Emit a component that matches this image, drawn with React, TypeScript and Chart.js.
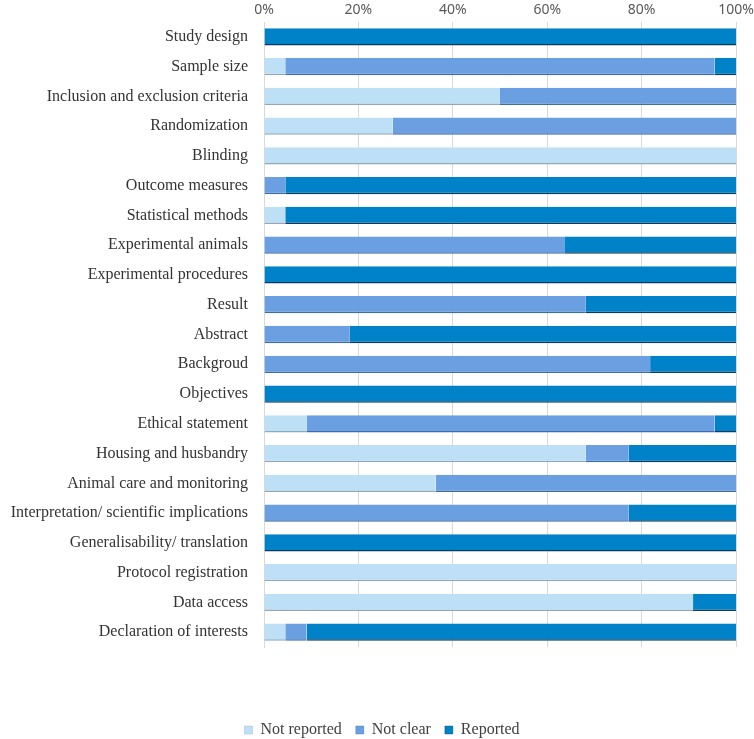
import React, { useEffect, useRef } from "react";
import { Chart, registerables } from "chart.js";

Chart.register(...registerables);

const categories = [
  "Study design",
  "Sample size",
  "Inclusion and exclusion criteria",
  "Randomization",
  "Blinding",
  "Outcome measures",
  "Statistical methods",
  "Experimental animals",
  "Experimental procedures",
  "Result",
  "Abstract",
  "Backgroud",
  "Objectives",
  "Ethical statement",
  "Housing and husbandry",
  "Animal care and monitoring",
  "Interpretation/ scientific implications",
  "Generalisability/ translation",
  "Protocol registration",
  "Data access",
  "Declaration of interests",
];

const notReported = [0, 4.5, 50, 27.3, 100, 0, 4.5, 0, 0, 0, 0, 0, 0, 9.1, 68.2, 36.4, 0, 0, 100, 90.9, 4.5];
const notClear = [0, 91, 50, 72.7, 0, 4.5, 0, 63.6, 0, 68.2, 18.2, 81.8, 0, 86.4, 9.1, 63.6, 77.3, 0, 0, 0, 4.5];
const reported = [100, 4.5, 0, 0, 0, 95.5, 95.5, 36.4, 100, 31.8, 81.8, 18.2, 100, 4.5, 22.7, 0, 22.7, 100, 0, 9.1, 91];

const tickValues = [0, 20, 40, 60, 80, 100];

const legendShift = {
  id: "legendShift",
  afterLayout(chart: any) {
    const l = chart.legend;
    if (!l) return;
    l.left += 14;
    l.right += 14;
    l.top += 11;
    l.bottom += 11;
  },
};

export default function App() {
  const ref = useRef<HTMLCanvasElement | null>(null);

  useEffect(() => {
    document.body.style.margin = "0";
    const ctx = ref.current!.getContext("2d")!;
    const serif = "'Liberation Serif', 'Times New Roman', serif";
    const chart = new Chart(ctx, {
      type: "bar",
      data: {
        labels: categories,
        datasets: [
          { label: "Not reported", data: notReported, backgroundColor: "#BEE0F7", borderColor: "#8fa9bb" },
          { label: "Not clear", data: notClear, backgroundColor: "#6A9FE2", borderColor: "#3f6da8" },
          { label: "Reported", data: reported, backgroundColor: "#0082C8", borderColor: "#0a3a63" },
        ].map((d) => ({
          ...d,
          borderWidth: { top: 0, left: 0, right: 0, bottom: 1.5 },
          borderSkipped: false,
          categoryPercentage: 0.58,
          barPercentage: 1,
        })),
      },
      options: {
        indexAxis: "y",
        animation: false,
        responsive: false,
        layout: { padding: { left: 0, right: 18, top: 0, bottom: 2 } },
        scales: {
          x: {
            position: "top",
            stacked: true,
            min: 0,
            max: 100,
            afterBuildTicks: (scale: any) => {
              scale.ticks = tickValues.map((v) => ({ value: v }));
            },
            afterFit: (scale: any) => {
              scale.height = 22;
              scale.paddingLeft = 0;
              scale.paddingRight = 0;
            },
            ticks: {
              callback: (v: any) => v + "%",
              color: "#595959",
              font: { family: "'Noto Sans', sans-serif", size: 14 },
              padding: 4,
            },
            grid: { color: "#d9d9d9", drawTicks: false, lineWidth: 1 },
            border: { display: false },
          },
          xb: {
            type: "linear",
            position: "bottom",
            display: true,
            ticks: { display: false },
            grid: { display: false, drawTicks: false },
            border: { display: false },
            afterFit: (scale: any) => {
              scale.height = 50;
              scale.paddingLeft = 0;
              scale.paddingRight = 0;
            },
          },
          y: {
            stacked: true,
            ticks: {
              color: "#333333",
              font: { family: serif, size: 16 },
              padding: 16,
              autoSkip: false,
            },
            grid: { display: false, drawTicks: false },
            border: { display: true, color: "#d9d9d9" },
            afterFit: (scale: any) => {
              scale.width = 264;
              scale.paddingTop = 0;
              scale.paddingBottom = 0;
            },
          },
        },
        plugins: {
          legend: {
            position: "bottom",
            labels: {
              boxWidth: 8,
              boxHeight: 8,
              padding: 14,
              color: "#404040",
              font: { family: serif, size: 16 },
            },
          },
          tooltip: { enabled: false },
        },
      },
      plugins: [legendShift],
    } as any);
    return () => chart.destroy();
  }, []);

  return (
    <div style={{ position: "absolute", left: 0, top: 0, width: 754, height: 739 }}>
      <canvas ref={ref} width={754} height={739} style={{ width: 754, height: 739 }} />
    </div>
  );
}
